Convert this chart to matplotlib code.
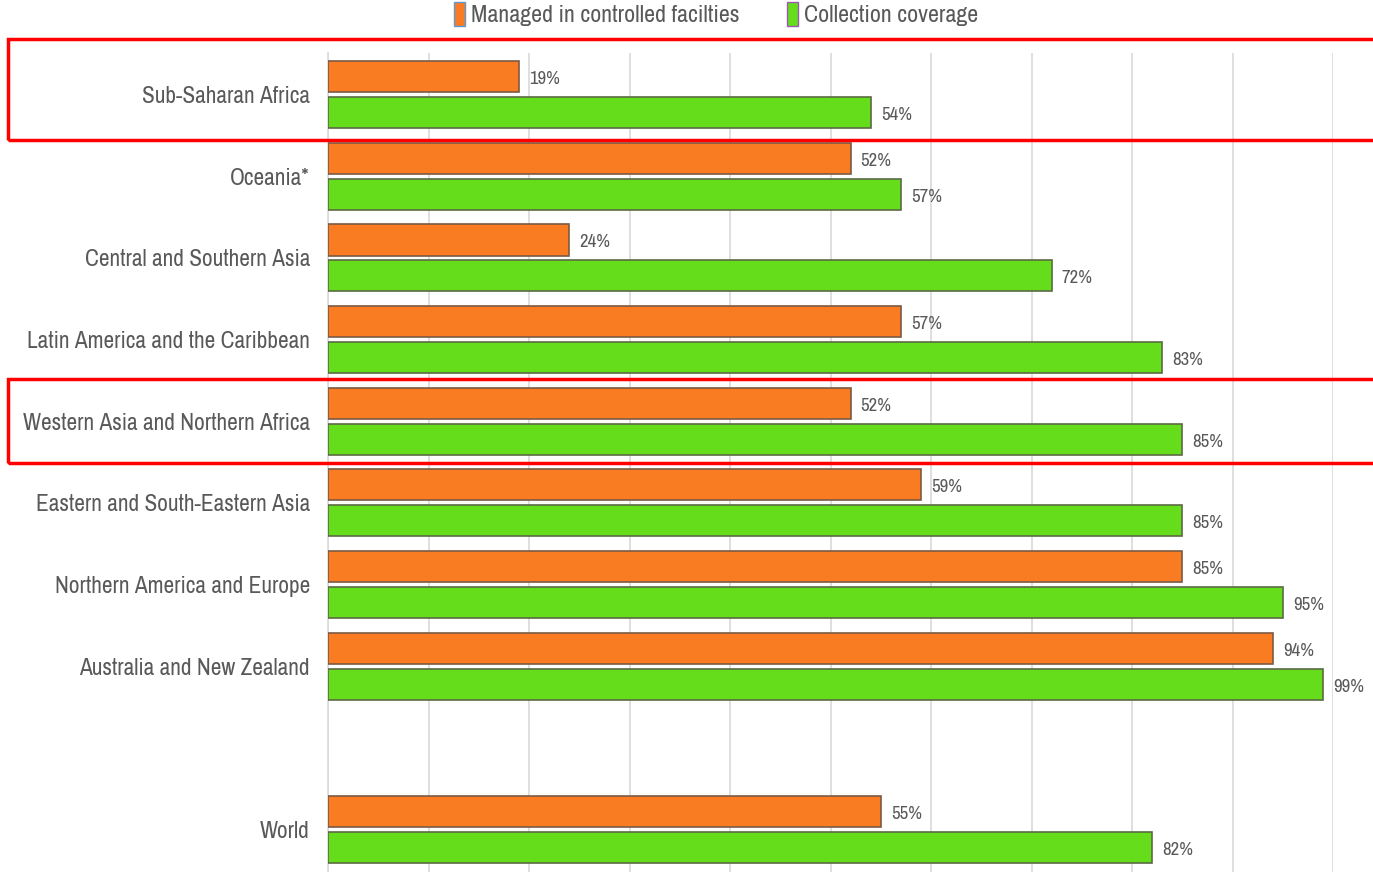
import numpy as np
import matplotlib.pyplot as plt
from matplotlib.patches import Rectangle, Patch
from matplotlib import font_manager

regions = ["Sub-Saharan Africa", "Oceania*", "Central and Southern Asia",
           "Latin America and the Caribbean", "Western Asia and Northern Africa",
           "Eastern and South-Eastern Asia", "Northern America and Europe",
           "Australia and New Zealand", "", "World"]
managed = [19, 52, 24, 57, 52, 59, 85, 94, None, 55]
collection = [54, 57, 72, 83, 85, 85, 95, 99, None, 82]

# look for a narrow face, the original uses a condensed font
names = sorted({f.name for f in font_manager.fontManager.ttflist})
narrow = [n for n in names if "Narrow" in n or "Condensed" in n]
fam = [narrow[0], "DejaVu Sans"] if narrow else ["Liberation Sans", "DejaVu Sans"]
plt.rcParams['font.family'] = fam

c_or = "#f97c22"
c_gr = "#66dd1a"
txt = "#595959"

fig = plt.figure(figsize=(13.73, 8.72), dpi=100)
ax = fig.add_axes([328/1373, 0, (1333-328)/1373, 1 - 53/872])

h = 0.38
off = 0.22
for i in range(len(regions)):
    if managed[i] is None:
        continue
    ax.barh(i - off, managed[i], height=h, color=c_or, edgecolor="#7a5a44", linewidth=1.2, zorder=3)
    ax.barh(i + off, collection[i], height=h, color=c_gr, edgecolor="#5a6a44", linewidth=1.2, zorder=3)
    ax.text(managed[i] + 1.0, i - off + 0.03, f"{managed[i]}%", va="center", ha="left", fontsize=13.5, color=txt)
    ax.text(collection[i] + 1.0, i + off + 0.03, f"{collection[i]}%", va="center", ha="left", fontsize=13.5, color=txt)

ax.set_xlim(0, 100)
ax.set_ylim(9.52, -0.51)
ax.set_xticks(np.arange(0, 101, 10))
ax.set_xticklabels([])
ax.set_yticks(range(len(regions)))
ax.set_yticklabels(regions, fontsize=17, color=txt)
ax.tick_params(axis="both", length=0)
ax.tick_params(axis="y", pad=13)
ax.grid(axis="x", color="#d9d9d9", linewidth=1.2, zorder=0)
for s in ["top", "right", "bottom"]:
    ax.spines[s].set_visible(False)
ax.spines["left"].set_color("#d9d9d9")
ax.spines["left"].set_linewidth(1.2)

# shrink the labels so the longest fits the width seen in the original (~282 px)
r = fig.canvas.get_renderer()
lab = ax.get_yticklabels()[3]
w = lab.get_window_extent(r).width
fs = 17 * 282 / w
for t in ax.get_yticklabels():
    t.set_fontsize(fs)

handles = [Patch(facecolor=c_or, edgecolor="#5b9bd5", linewidth=1),
           Patch(facecolor=c_gr, edgecolor="#9b59b6", linewidth=1)]
leg = fig.legend(handles, ["Managed in controlled facilties", "Collection coverage"],
                 loc="center", bbox_to_anchor=(716/1373, 1 - 14/872), ncol=2, frameon=False,
                 fontsize=17, labelcolor=txt, handlelength=0.6, handleheight=1.0,
                 handletextpad=0.3, columnspacing=2.5)
lw = leg.get_texts()[0].get_window_extent(r).width
lfs = 17 * 267 / lw
leg.remove()
leg = fig.legend(handles, ["Managed in controlled facilties", "Collection coverage"],
                 loc="center", bbox_to_anchor=(716/1373, 1 - 14/872), ncol=2, frameon=False,
                 fontsize=lfs, labelcolor=txt, handlelength=0.45, handleheight=1.2,
                 handletextpad=0.25, columnspacing=2.0)

# red highlight boxes
for y0, y1 in [(39, 140), (379, 463)]:
    fig.patches.append(Rectangle((8/1373, 1 - y1/872), 1.0, (y1 - y0)/872,
                                 transform=fig.transFigure, fill=False,
                                 edgecolor="#ff0000", linewidth=2.5, zorder=10))

fig.savefig("out.png", dpi=100)
